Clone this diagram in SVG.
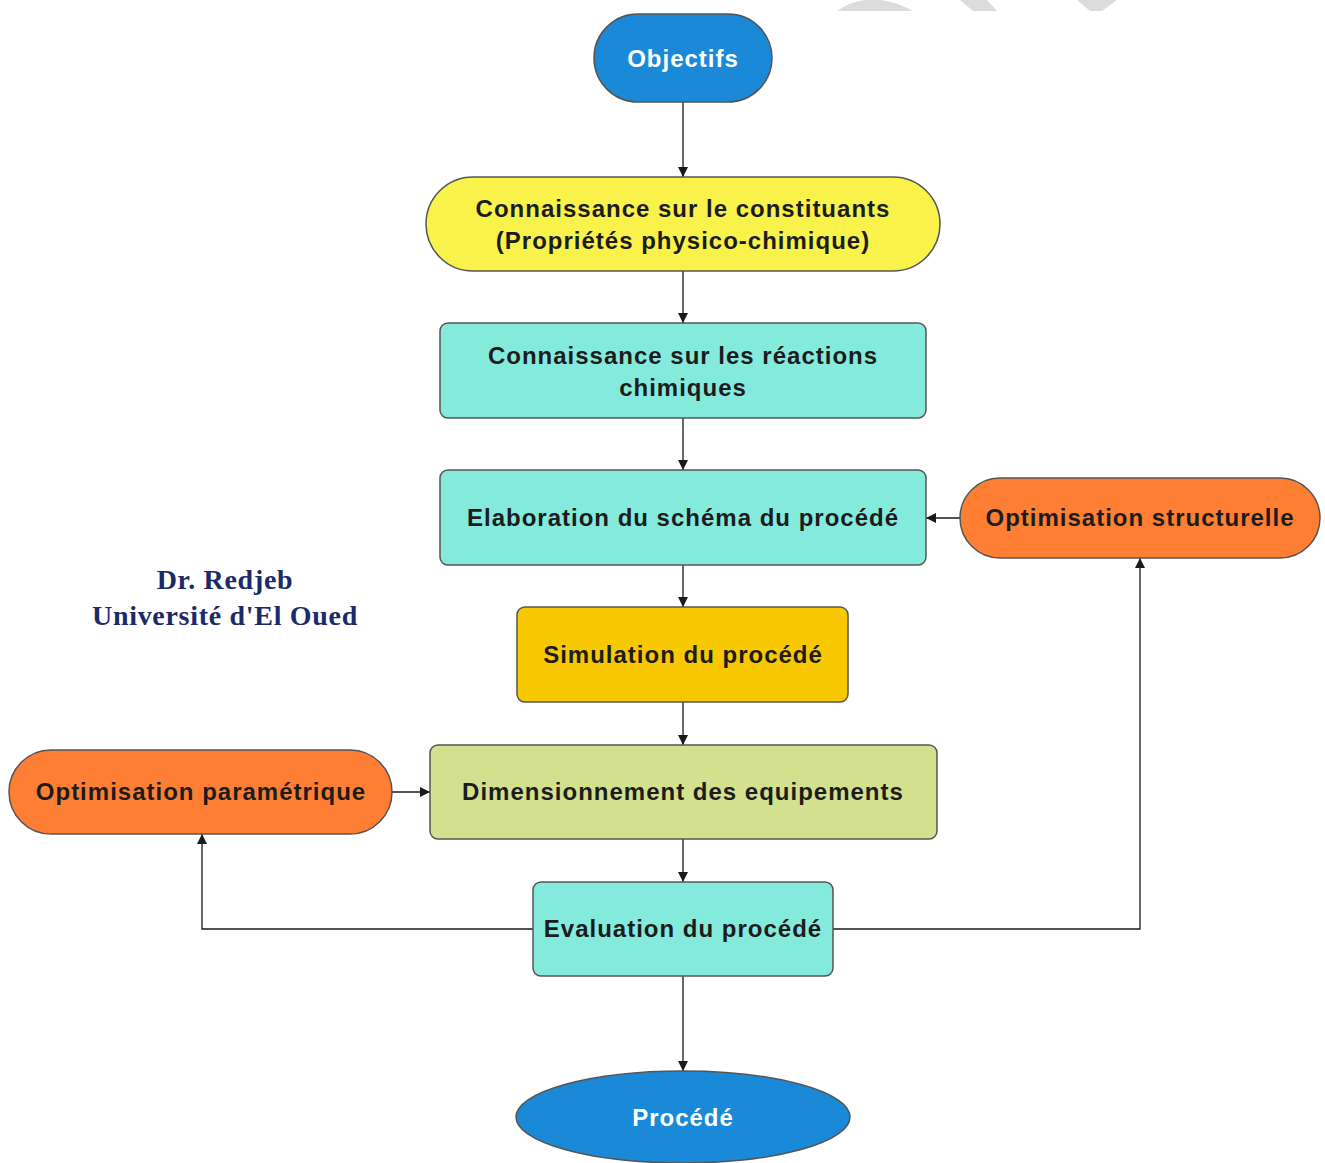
<svg xmlns="http://www.w3.org/2000/svg" width="1325" height="1163" viewBox="0 0 1325 1163">
<defs>
<marker id="arr" viewBox="0 0 10 10" refX="10" refY="5" markerWidth="10" markerHeight="10" markerUnits="userSpaceOnUse" orient="auto">
<path d="M0,0 L10,5 L0,10 z" fill="#1a1a1a"/>
</marker>
</defs>
<style>
.n{stroke:#555;stroke-width:1.5}
.t{font-family:"Liberation Sans",Arial,sans-serif;font-weight:bold;font-size:24px;letter-spacing:1px;fill:#1c1c1c;text-anchor:middle;dominant-baseline:central}
.w{fill:#fff}
.c{fill:none;stroke:#1a1a1a;stroke-width:1.3;marker-end:url(#arr)}
.wm{fill:#dcdcdc}
.sig{font-family:"Liberation Serif","Times New Roman",serif;font-weight:bold;font-size:28px;letter-spacing:0.7px;fill:#1b2a6b;text-anchor:middle}
</style>
<rect width="1325" height="1163" fill="#fff"/>
<g id="watermark">
<path class="wm" d="M837,11 Q870,-12 913,11 Z"/>
<path class="wm" d="M960,0 L987,0 L997,11 L973,11 Z"/>
<path class="wm" d="M1077,0 L1117,0 L1102,11 L1090,11 Z"/>
</g>
<g id="connectors">
<line class="c" x1="683" y1="102" x2="683" y2="177"/>
<line class="c" x1="683" y1="271" x2="683" y2="323"/>
<line class="c" x1="683" y1="418" x2="683" y2="470"/>
<line class="c" x1="683" y1="565" x2="683" y2="607"/>
<line class="c" x1="683" y1="702" x2="683" y2="745"/>
<line class="c" x1="683" y1="839" x2="683" y2="882"/>
<line class="c" x1="683" y1="976" x2="683" y2="1071"/>
<line class="c" x1="960" y1="518" x2="926" y2="518"/>
<line class="c" x1="392" y1="792" x2="430" y2="792"/>
<polyline class="c" points="533,929 202,929 202,834"/>
<polyline class="c" points="833,929 1140,929 1140,558"/>
</g>
<g id="objectifs">
<rect class="n" x="594" y="14" width="178" height="88" rx="44" fill="#1a8ad8"/>
<text class="t w" x="683" y="58">Objectifs</text>
</g>
<g id="constituants">
<rect class="n" x="426" y="177" width="514" height="94" rx="47" fill="#f8f24a"/>
<text class="t" x="683" y="208">Connaissance sur le constituants</text>
<text class="t" x="683" y="240">(Propriétés physico-chimique)</text>
</g>
<g id="reactions">
<rect class="n" x="440" y="323" width="486" height="95" rx="8" fill="#84eadc"/>
<text class="t" x="683" y="355">Connaissance sur les réactions</text>
<text class="t" x="683" y="387">chimiques</text>
</g>
<g id="elaboration">
<rect class="n" x="440" y="470" width="486" height="95" rx="8" fill="#84eadc"/>
<text class="t" x="683" y="517">Elaboration du schéma du procédé</text>
</g>
<g id="opt-structurelle">
<rect class="n" x="960" y="478" width="360" height="80" rx="40" fill="#fe7f34"/>
<text class="t" x="1140" y="517">Optimisation structurelle</text>
</g>
<g id="simulation">
<rect class="n" x="517" y="607" width="331" height="95" rx="8" fill="#f8c800"/>
<text class="t" x="683" y="654">Simulation du procédé</text>
</g>
<g id="dimensionnement">
<rect class="n" x="430" y="745" width="507" height="94" rx="8" fill="#d3e08d"/>
<text class="t" x="683" y="791">Dimensionnement des equipements</text>
</g>
<g id="opt-parametrique">
<rect class="n" x="9" y="750" width="383" height="84" rx="42" fill="#fe7f34"/>
<text class="t" x="201" y="791">Optimisation paramétrique</text>
</g>
<g id="evaluation">
<rect class="n" x="533" y="882" width="300" height="94" rx="8" fill="#84eadc"/>
<text class="t" x="683" y="928">Evaluation du procédé</text>
</g>
<g id="procede">
<ellipse class="n" cx="683" cy="1117" rx="167" ry="46" fill="#1a8ad8"/>
<text class="t w" x="683" y="1117">Procédé</text>
</g>
<g id="signature">
<text class="sig" x="225" y="589">Dr. Redjeb</text>
<text class="sig" x="225" y="625">Université d'El Oued</text>
</g>
</svg>
